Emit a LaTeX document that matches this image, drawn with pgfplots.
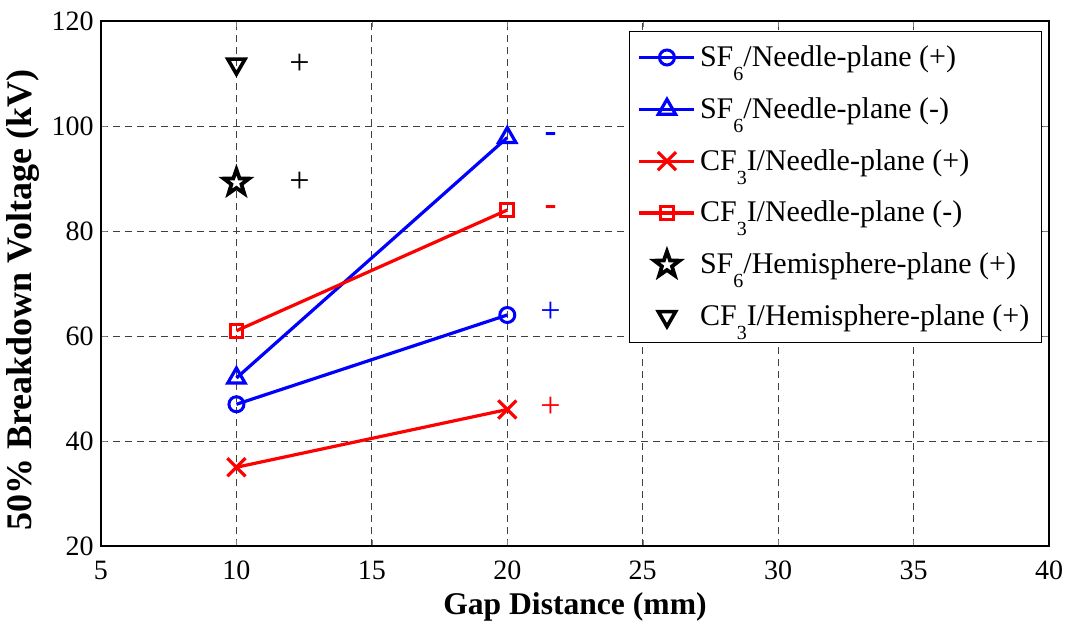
\documentclass[border=0pt]{standalone}
\usepackage{pgfplots}
\pgfplotsset{compat=1.18}
\usepackage{fontspec}
\setmainfont{Liberation Serif}
\pgfdeclareplotmark{fivestar}{%
  \pgfpathmoveto{\pgfpointpolar{90}{\pgfplotmarksize}}%
  \pgfpathlineto{\pgfpointpolar{126}{0.40\pgfplotmarksize}}%
  \pgfpathlineto{\pgfpointpolar{162}{\pgfplotmarksize}}%
  \pgfpathlineto{\pgfpointpolar{198}{0.40\pgfplotmarksize}}%
  \pgfpathlineto{\pgfpointpolar{234}{\pgfplotmarksize}}%
  \pgfpathlineto{\pgfpointpolar{270}{0.40\pgfplotmarksize}}%
  \pgfpathlineto{\pgfpointpolar{306}{\pgfplotmarksize}}%
  \pgfpathlineto{\pgfpointpolar{342}{0.40\pgfplotmarksize}}%
  \pgfpathlineto{\pgfpointpolar{18}{\pgfplotmarksize}}%
  \pgfpathlineto{\pgfpointpolar{54}{0.40\pgfplotmarksize}}%
  \pgfpathclose
  \pgfusepathqfillstroke
}
\newcommand{\sub}[1]{\raisebox{-7pt}{\fontsize{10pt}{10pt}\selectfont #1}}
\definecolor{mblue}{RGB}{0,0,255}
\definecolor{mred}{RGB}{255,0,0}
\begin{document}
\begin{tikzpicture}[font=\fontsize{14pt}{16pt}\selectfont]
\begin{axis}[
  scale only axis,
  width=474pt, height=262.5pt,
  xmin=5, xmax=40, ymin=20, ymax=120,
  xtick={5,10,...,40}, ytick={20,40,...,120},
  grid=major,
  major grid style={black!75, dash pattern=on 3.5pt off 2.5pt, line width=0.4pt},
  tick align=inside, tick pos=both,
  major tick length=3pt,
  axis line style={black, line width=0.6pt},
  /pgf/number format/assume math mode=true,
  xticklabel={\textrm{\pgfmathprintnumber{\tick}}},
  yticklabel={\textrm{\pgfmathprintnumber{\tick}}},
  xticklabel style={anchor=base, inner sep=0pt, yshift=-16.5pt},
  yticklabel style={anchor=east, inner sep=0pt, xshift=-3.5pt},
  xlabel={\textbf{Gap Distance (mm)}},
  ylabel={\textbf{50\% Breakdown Voltage (kV)}},
  xlabel style={at={(axis description cs:0.5,0)}, anchor=base, yshift=-34pt, inner sep=0pt, font=\fontsize{15.8pt}{18pt}\selectfont},
  ylabel style={at={(axis description cs:-0.0823,0.4686)}, anchor=center, inner sep=0pt, font=\fontsize{18pt}{20pt}\selectfont},
  legend style={at={(0.9926,0.981)}, anchor=north east, draw=black, line width=0.6pt, fill=white,
    row sep=10pt, inner xsep=4pt, inner ysep=5pt, cells={anchor=west},
    font=\fontsize{15pt}{17pt}\selectfont},
  legend image code/.code={\draw[mark repeat=2,mark phase=2,#1] plot coordinates {(0pt,0pt) (13.75pt,0pt) (27.5pt,0pt)};},
]
\addplot[mblue, line width=1.6pt, mark=o, mark size=3.75pt, mark options={solid, line width=1.5pt}]
  coordinates {(10,47) (20,64)};
\addlegendentry{SF\sub{6}/Needle-plane (+)}
\addplot[mblue, line width=1.6pt, mark=triangle, mark size=5pt, mark options={solid, line width=1.6pt}]
  coordinates {(10,52) (20,97.8)};
\addlegendentry{SF\sub{6}/Needle-plane (-)}
\addplot[mred, line width=1.6pt, mark=x, mark size=6.4pt, mark options={solid, line width=1.6pt}]
  coordinates {(10,35) (20,46)};
\addlegendentry{CF\sub{3}I/Needle-plane (+)}
\addplot[mred, line width=1.6pt, mark=square, mark size=3.2pt, mark options={solid, line width=1.5pt}]
  coordinates {(10,61) (20,84)};
\addlegendentry{CF\sub{3}I/Needle-plane (-)}
\addplot[black, only marks, mark=fivestar, mark size=6.6pt, mark options={solid, line width=1.9pt, fill=white}]
  coordinates {(10,89.2)};
\addlegendentry{SF\sub{6}/Hemisphere-plane (+)}
\addplot[black, only marks, mark=triangle, mark size=5pt, mark options={solid, line width=1.8pt, rotate=180}]
  coordinates {(10,111.8)};
\addlegendentry{CF\sub{3}I/Hemisphere-plane (+)}
\node[black, font=\fontsize{18pt}{20pt}\selectfont] at (axis cs:12.33,111.8) {+};
\node[black, font=\fontsize{18pt}{20pt}\selectfont] at (axis cs:12.33,89.2) {+};
\node[mblue, font=\fontsize{18pt}{20pt}\selectfont\bfseries] at (axis cs:21.6,97.8) {-};
\node[mred, font=\fontsize{18pt}{20pt}\selectfont\bfseries] at (axis cs:21.6,84) {-};
\node[mblue, font=\fontsize{18pt}{20pt}\selectfont] at (axis cs:21.6,64.6) {+};
\node[mred, font=\fontsize{18pt}{20pt}\selectfont] at (axis cs:21.6,46.4) {+};
\end{axis}
\path (current axis.south west) ++(-50.5pt,-38.5pt);
\path (current axis.north east) ++(11pt,10.5pt);
\end{tikzpicture}
\end{document}
